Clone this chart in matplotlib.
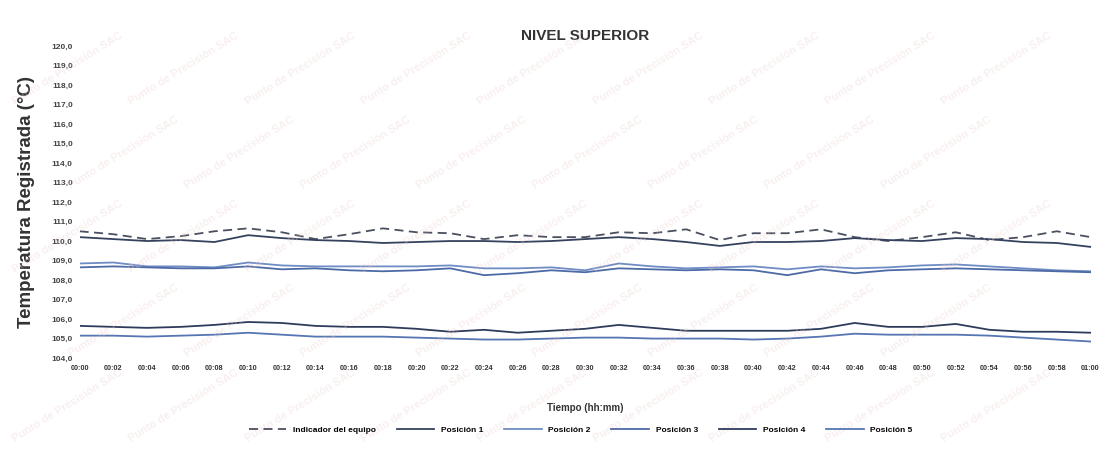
import matplotlib
matplotlib.use("Agg")
import matplotlib.pyplot as plt
from matplotlib.ticker import FuncFormatter, MultipleLocator

plt.rcParams['font.family'] = ['Liberation Sans', 'DejaVu Sans']

# Time axis: readings every 2 minutes
minutes = list(range(0, 61, 2))
time_labels = [f"{m // 60:02d}:{m % 60:02d}" for m in minutes]

indicador = [110.5, 110.35, 110.1, 110.25, 110.5, 110.65, 110.45, 110.1, 110.35, 110.65,
             110.45, 110.4, 110.1, 110.3, 110.2, 110.2, 110.45, 110.4, 110.6, 110.05,
             110.4, 110.4, 110.6, 110.2, 110.0, 110.2, 110.45, 110.05, 110.2, 110.5, 110.2]
posicion_1 = [110.2, 110.1, 110.0, 110.05, 109.95, 110.3, 110.15, 110.05, 110.0, 109.9,
              109.95, 110.0, 110.0, 109.95, 110.0, 110.1, 110.2, 110.1, 109.95, 109.75,
              109.95, 109.95, 110.0, 110.15, 110.05, 110.0, 110.15, 110.1, 109.95, 109.9, 109.7]
posicion_2 = [108.85, 108.9, 108.7, 108.7, 108.65, 108.9, 108.75, 108.7, 108.7, 108.7,
              108.7, 108.75, 108.6, 108.6, 108.65, 108.5, 108.85, 108.7, 108.6, 108.65,
              108.7, 108.55, 108.7, 108.6, 108.65, 108.75, 108.8, 108.7, 108.6, 108.5, 108.45]
posicion_3 = [108.65, 108.7, 108.65, 108.6, 108.6, 108.7, 108.55, 108.6, 108.5, 108.45,
              108.5, 108.6, 108.25, 108.35, 108.5, 108.4, 108.6, 108.55, 108.5, 108.55,
              108.5, 108.25, 108.55, 108.35, 108.5, 108.55, 108.6, 108.55, 108.5, 108.45, 108.4]
posicion_4 = [105.65, 105.6, 105.55, 105.6, 105.7, 105.85, 105.8, 105.65, 105.6, 105.6,
              105.5, 105.35, 105.45, 105.3, 105.4, 105.5, 105.7, 105.55, 105.4, 105.4,
              105.4, 105.4, 105.5, 105.8, 105.6, 105.6, 105.75, 105.45, 105.35, 105.35, 105.3]
posicion_5 = [105.15, 105.15, 105.1, 105.15, 105.2, 105.3, 105.2, 105.1, 105.1, 105.1,
              105.05, 105.0, 104.95, 104.95, 105.0, 105.05, 105.05, 105.0, 105.0, 105.0,
              104.95, 105.0, 105.1, 105.25, 105.2, 105.2, 105.2, 105.15, 105.05, 104.95, 104.85]

series = [
    ("Indicador del equipo", indicador, "#4a5060", (0, (5, 3))),
    ("Posición 1", posicion_1, "#34425e", "-"),
    ("Posición 2", posicion_2, "#6f8cc4", "-"),
    ("Posición 3", posicion_3, "#4d6aa6", "-"),
    ("Posición 4", posicion_4, "#2e3c5c", "-"),
    ("Posición 5", posicion_5, "#5575b3", "-"),
]

fig = plt.figure(figsize=(11.06, 4.55), dpi=100)
fig.patch.set_facecolor("white")

# Faint diagonal watermark text, kept inside the page
for row in range(5):
    shift = 0.05 if row % 2 else 0.0
    for col in range(9 if row % 2 == 0 else 8):
        fx = 0.01 + col * 0.105 + shift
        fy = 0.03 + row * 0.185
        fig.text(fx, fy, "Punto de Precisión SAC", rotation=32, fontsize=8,
                 fontweight="bold", color="#eccaca", alpha=0.3, zorder=0)

ax = fig.add_axes([0.072, 0.213, 0.914, 0.686])
ax.set_facecolor("none")

for name, values, color, style in series:
    ax.plot(minutes, values, color=color, linestyle=style, linewidth=1.3, label=name)

ax.set_xlim(0, 60)
ax.set_ylim(104, 120)
ax.yaxis.set_major_locator(MultipleLocator(1))
ax.yaxis.set_major_formatter(FuncFormatter(lambda v, p: f"{v:.1f}".replace(".", ",")))
ax.set_xticks(minutes)
ax.set_xticklabels(time_labels)
ax.tick_params(axis="x", length=0, labelsize=5.2, pad=5, colors="#333333")
ax.tick_params(axis="y", length=0, labelsize=6, pad=5, colors="#444444")
for lbl in ax.get_xticklabels() + ax.get_yticklabels():
    lbl.set_fontweight("bold")
for s in ax.spines.values():
    s.set_visible(False)

ax.set_title("NIVEL SUPERIOR", fontsize=11, fontweight="bold", color="#333333", pad=4)
ax.set_ylabel("Temperatura Registrada (°C)", fontsize=13.5, fontweight="bold",
              color="#333333", labelpad=12)
ax.set_xlabel("Tiempo (hh:mm)", fontsize=7, fontweight="bold", color="#333333", labelpad=22)

fig.legend(loc="lower center", bbox_to_anchor=(0.525, 0.03), ncol=6, frameon=False,
           handlelength=4.5, columnspacing=2.5, prop={"weight": "bold", "size": 6})

fig.savefig("out.png", dpi=100, facecolor="white")
